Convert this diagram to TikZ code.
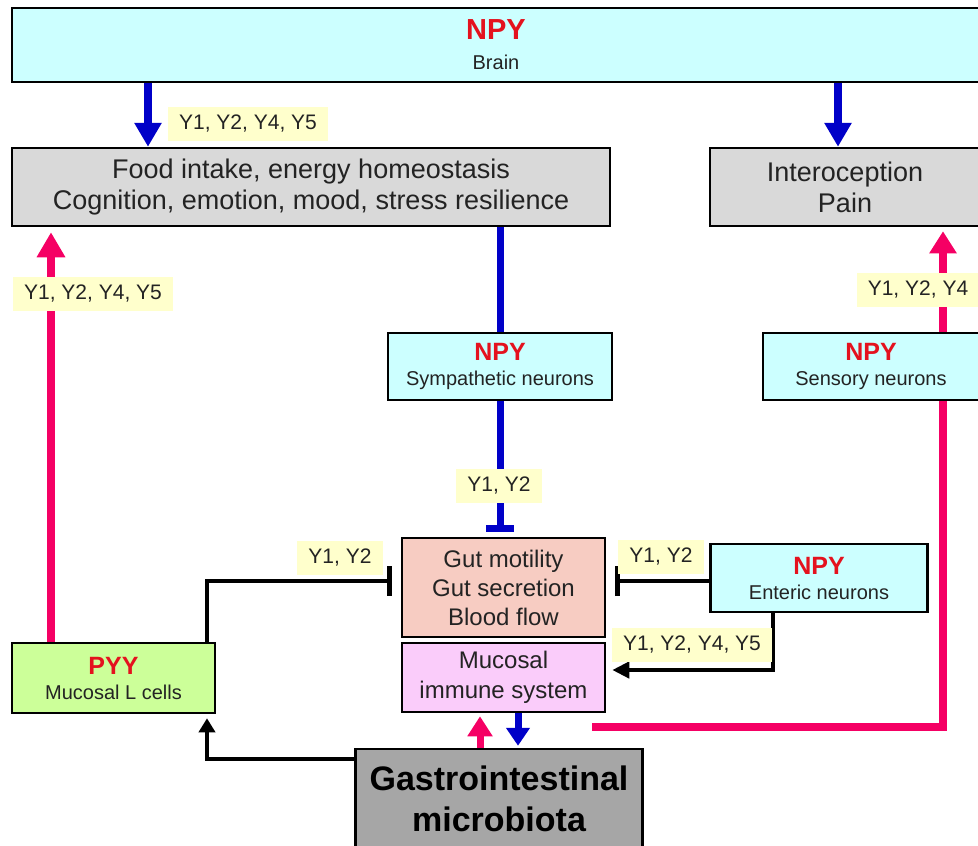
\documentclass[tikz,border=0pt]{standalone}
\usepackage{fontspec}
\setmainfont{Liberation Sans}
\usetikzlibrary{arrows.meta}
\definecolor{npyred}{RGB}{228,18,30}
\definecolor{ink}{RGB}{35,35,35}
\definecolor{boxcyan}{RGB}{204,255,255}
\definecolor{boxgray}{RGB}{217,217,217}
\definecolor{boxsalmon}{RGB}{247,204,194}
\definecolor{boxviolet}{RGB}{250,204,250}
\definecolor{boxgreen}{RGB}{204,255,153}
\definecolor{boxdark}{RGB}{166,166,166}
\definecolor{labyellow}{RGB}{255,255,204}
\definecolor{nblue}{RGB}{0,0,200}
\definecolor{npink}{RGB}{245,0,100}
\newcommand{\peptide}[3][25]{{\fontsize{#1}{#1}\selectfont\bfseries\color{npyred}#2}\\#3}
\begin{document}
\begin{tikzpicture}[x=1pt,y=-1pt,
  box/.style={draw=black,line width=2.5pt,inner sep=0pt,align=center,text=ink},
  big/.style={font=\fontsize{27}{31}\selectfont},
  small/.style={font=\fontsize{20}{25}\selectfont},
  lab/.style={fill=labyellow,inner xsep=11pt,inner ysep=0pt,minimum height=34pt,text=ink,font=\fontsize{21}{22}\selectfont},
  blueline/.style={draw=nblue,line width=8pt},
  pinkline/.style={draw=npink,line width=8pt},
  blackline/.style={draw=black,line width=4.5pt}]
\useasboundingbox (0,0) rectangle (978,846);
\clip (0,0) rectangle (978,846);
\fill[white] (0,0) rectangle (978,846);
% boxes
\node[box,font=\fontsize{20}{30}\selectfont,fill=boxcyan,minimum width=968pt,minimum height=74pt] (brain) at (496,45) {\peptide[29]{NPY}{Brain}};
\node[box,big,fill=boxgray,minimum width=598pt,minimum height=78pt] (food) at (311,187) {Food intake, energy homeostasis\\Cognition, emotion, mood, stress resilience};
\node[box,big,fill=boxgray,minimum width=270pt,minimum height=78pt] (intero) at (845,187) {Interoception\\Pain};
\node[box,small,fill=boxcyan,minimum width=224pt,minimum height=67pt] (symp) at (500,366.5) {\peptide{NPY}{Sympathetic neurons}};
\node[box,small,fill=boxcyan,minimum width=216pt,minimum height=67pt] (sensory) at (871,366.5) {\peptide{NPY}{Sensory neurons}};
\node[box,fill=boxsalmon,minimum width=203pt,minimum height=99pt,font=\fontsize{24}{29}\selectfont] (gut) at (503.5,587.5) {Gut motility\\Gut secretion\\Blood flow};
\node[box,fill=boxviolet,minimum width=203pt,minimum height=69pt,font=\fontsize{24}{30}\selectfont] (immune) at (503.5,677.5) {Mucosal\\immune system};
\node[box,small,fill=boxcyan,minimum width=217pt,minimum height=68pt] (enteric) at (819,578) {\peptide{NPY}{Enteric neurons}};
\node[box,small,fill=boxgreen,minimum width=203pt,minimum height=70pt] (pyy) at (113.5,678) {\peptide{PYY}{Mucosal L cells}};
\node[box,fill=boxdark,minimum width=287pt,minimum height=100pt,font=\fontsize{34}{41}\selectfont\bfseries,text=black] (gm) at (499,799) {Gastrointestinal\\microbiota};
% connector positions
\coordinate (xa) at (148,0);
\coordinate (xb) at (838,0);
\coordinate (xc) at (500,0);
\coordinate (xd) at (943,0);
\coordinate (xe) at (51,0);
\coordinate (xf) at (207,0);
\coordinate (xg) at (773,0);
\coordinate (xh) at (480,0);
\coordinate (xi) at (518,0);
\coordinate (yj) at (0,581);
\coordinate (yk) at (0,670);
\coordinate (yl) at (0,759);
\coordinate (pinkend) at (592,727);
% connectors
\draw[blueline,-{Triangle[width=26pt,length=24pt]}] (xa |- brain.south) -- (xa |- food.north);
\draw[blueline,-{Triangle[width=26pt,length=24pt]}] (xb |- brain.south) -- (xb |- food.north);
\draw[blueline,line width=7pt] (xc |- food.south) -- (xc |- symp.north);
\draw[blueline,line width=7pt,-{Bar[width=28pt]},shorten >=5pt] (xc |- symp.south) -- (xc |- gut.north);
\draw[pinkline,-{Triangle[width=26pt,length=22pt]},shorten >=4pt] (xd |- sensory.north) -- (xd |- intero.south);
\draw[pinkline] (pinkend) -| (xd |- sensory.south);
\draw[pinkline,-{Triangle[width=27pt,length=25pt]},shorten >=5pt] (xe |- pyy.north) -- (xe |- food.south);
\draw[blackline,-{Bar[width=30pt]},shorten >=9pt] (xf |- pyy.north) |- (gut.west |- yj);
\draw[blackline,-{Bar[width=30pt]},shorten >=9pt] (enteric.west |- yj) -- (gut.east |- yj);
\draw[blackline,-{Triangle[width=16pt,length=17pt]},shorten >=6pt] (xg |- enteric.south) |- (immune.east |- yk);
\draw[blackline,-{Triangle[width=16pt,length=14pt]},shorten >=4pt] (gm.west |- yl) -| (xf |- pyy.south);
\draw[pinkline,line width=7pt,-{Triangle[width=24pt,length=20pt]},shorten >=3pt] (xh |- gm.north) -- (xh |- immune.south);
\draw[blueline,line width=7pt,-{Triangle[width=23pt,length=18pt]},shorten >=2pt] (xi |- immune.south) -- (xi |- gm.north);
% receptor labels
\node[lab] (lfood) at (248,124) {Y1, Y2, Y4, Y5};
\node[lab] (lpyy) at (93,294) {Y1, Y2, Y4, Y5};
\node[lab] (lsens) at (918,290) {Y1, Y2, Y4};
\node[lab] (lsymp) at (499,486) {Y1, Y2};
\node[lab] (lpgut) at (340,558) {Y1, Y2};
\node[lab] (legut) at (661,557) {Y1, Y2};
\node[lab] (leimm) at (692,645) {Y1, Y2, Y4, Y5};
\end{tikzpicture}
\end{document}
